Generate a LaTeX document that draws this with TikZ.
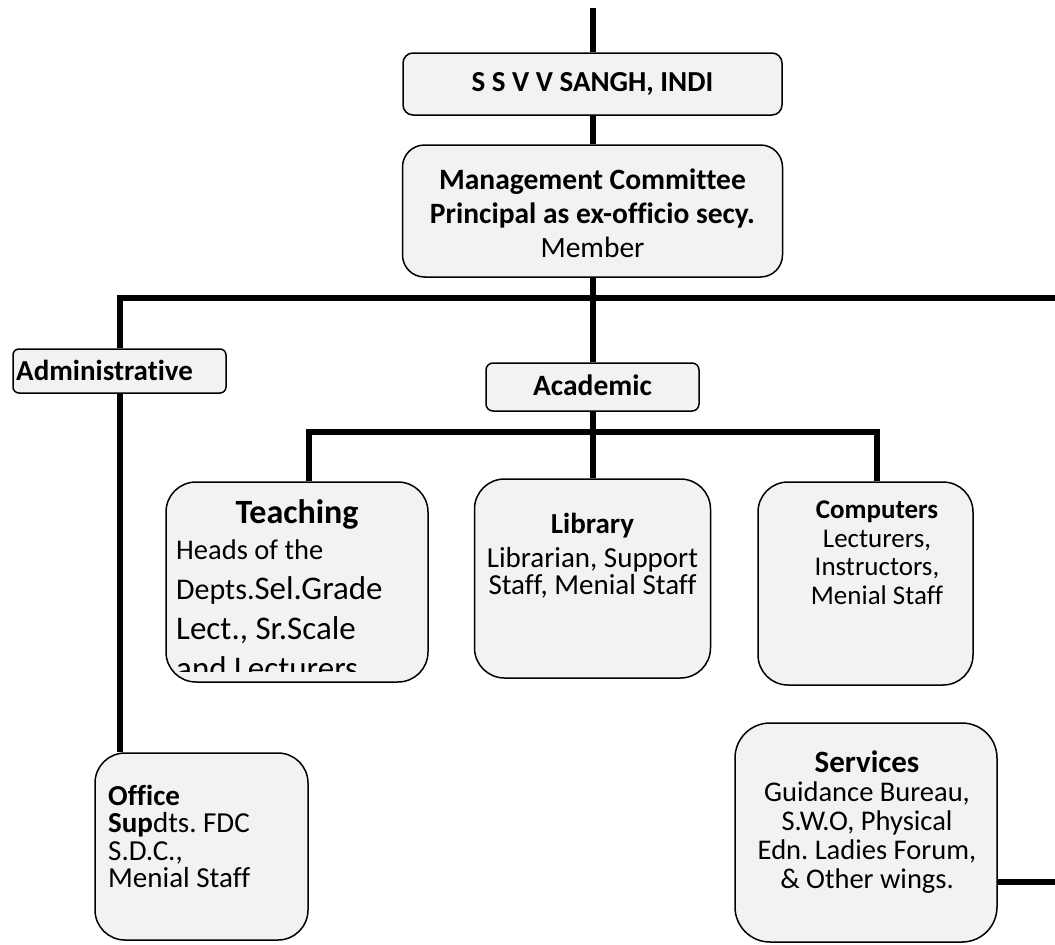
\documentclass[tikz,border=0pt]{standalone}
\usepackage{fontspec}
\setmainfont{Carlito}[Ligatures=NoCommon]
\usetikzlibrary{positioning}
\definecolor{boxfill}{HTML}{F2F2F2}
\newcommand{\sz}[2]{\fontsize{#1}{#2}\selectfont}
\frenchspacing
\tikzset{
  box/.style={draw, line width=1.5pt, fill=boxfill, inner sep=0pt, rounded corners=#1},
  box/.default=10pt,
  link/.style={line width=6pt},
  lbl/.style={inner sep=0pt, align=center, font=\sz{27}{28}},
}
\begin{document}
\begin{tikzpicture}[x=1pt,y=-1pt]
  \useasboundingbox (0,0) rectangle (1055,945);

  % junction points
  \coordinate (top) at (592.5,8);
  \coordinate (rt) at (1055,298);
  \coordinate (tj) at (309,432);
  \coordinate (cj) at (877,432);
  \coordinate (sv) at (1055,882);

  % boxes
  \node[box=10pt, minimum width=379pt, minimum height=62pt] (sangh) at (592.5,84) {};
  \node[box=22pt, minimum width=380pt, minimum height=132pt] (mgmt) at (592.5,211) {};
  \node[box=6pt, minimum width=213pt, minimum height=44pt] (admin) at (119.5,371) {};
  \node[box=7pt, minimum width=213pt, minimum height=48pt] (acad) at (592.5,387) {};
  \node[box=30pt, minimum width=262pt, minimum height=200pt] (teach) at (297,582) {};
  \node[box=30pt, minimum width=236pt, minimum height=199pt] (lib) at (592.5,578.5) {};
  \node[box=30pt, minimum width=215pt, minimum height=203pt] (comp) at (865.5,583.5) {};
  \node[box=30pt, minimum width=213pt, minimum height=187pt] (office) at (201.5,846.5) {};
  \node[box=35pt, minimum width=262pt, minimum height=219pt] (serv) at (866,832.5) {};

  % links
  \draw[link] (top) -- (sangh.north);
  \draw[link] (sangh.south) -- (mgmt.north);
  \draw[link] (mgmt.south) -- (acad.north);
  \draw[link] (admin.north) |- (rt);
  \draw[link] (admin.south) -- (admin.south |- office.north);
  \draw[link] (tj |- teach.north) |- (cj) -- (cj |- comp.north);
  \draw[link] (acad.south) -- (lib.north);
  \draw[link] (sv -| serv.east) -- (sv);

  % texts
  \node[lbl, font=\bfseries\sz{29}{30}] (sanghtx) at (sangh) {S S V V SANGH, INDI};
  \node[lbl, anchor=north, font=\sz{29.5}{34}] (mgmttx) at (592.5,169) {\textbf{Management Committee}\\\textbf{Principal as ex-officio secy.}\\Member};
  \node[lbl, anchor=base west, font=\bfseries\sz{29}{30}] (admintx) at (16,380) {Administrative};
  \node[lbl, anchor=base, font=\bfseries\sz{29.5}{30}] (acadtx) at (592.5,395) {Academic};
  \node[lbl, anchor=base, font=\bfseries\sz{34}{36}] (teachhd) at (297,523) {Teaching};
  \begin{scope}
    \clip (166,482) rectangle (428,671);
    \node[lbl, align=left, anchor=north west, font=\sz{33}{40}] (teachtx) at (176,540)
      {{\sz{28.5}{40}Heads of the}\\{\sz{30}{40}Depts.}Sel.Grade\\Lect., Sr.Scale\\and Lecturers};
  \end{scope}
  \node[lbl, anchor=north, font=\sz{29}{27}] (libtx) at (592.5,513) {\textbf{Library}\\[7pt]Librarian, Support\\Staff, Menial Staff};
  \node[lbl, anchor=north, font=\sz{27}{28.5}] (comptx) at (877,501) {\textbf{Computers}\\Lecturers,\\Instructors,\\Menial Staff};
  \node[lbl, align=left, anchor=north west, font=\sz{29}{27.3}] (officetx) at (108,785) {\textbf{Office}\\\textbf{Sup}dts. FDC\\S.D.C.,\\Menial Staff};
  \node[lbl, anchor=north, font=\sz{28.5}{29}] (servtx) at (867,751) {{\sz{31}{29}\textbf{Services}}\\Guidance Bureau,\\S.W.O, Physical\\Edn. Ladies Forum,\\\& Other wings.};
\end{tikzpicture}
\end{document}
